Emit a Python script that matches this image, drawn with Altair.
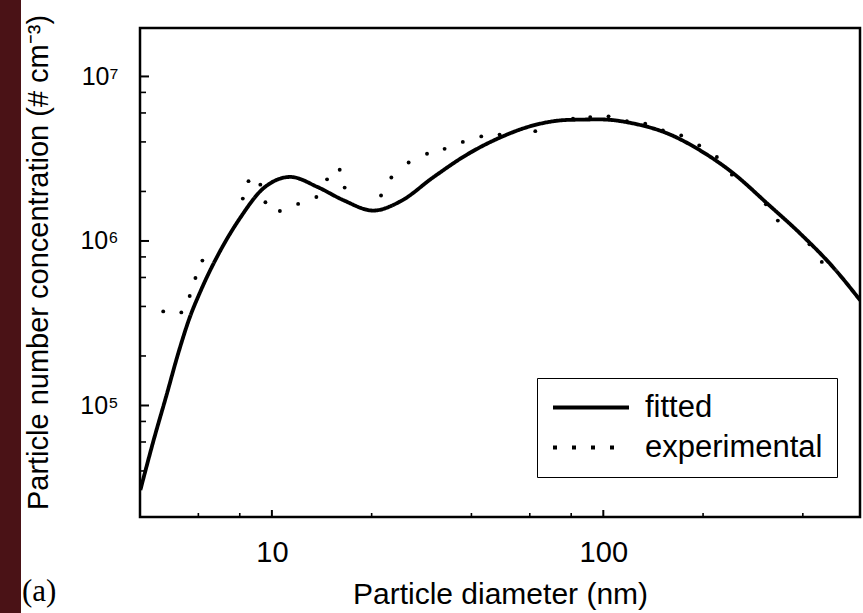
import altair as alt
import pandas as pd

# ---------------- data ----------------
fit_d = [4.01, 4.39, 4.81, 5.23, 5.64, 6.09, 7.00, 8.04, 9.43, 11.37, 13.72,
         16.43, 20.24, 24.41, 30.70, 38.88, 48.90, 61.49, 77.85, 97.9, 123.1,
         155.9, 196.1, 246.6, 312.3, 392.6, 493.8, 595.6]
fit_n = [3.06e4, 6.08e4, 1.157e5, 2.11e5, 3.39e5, 4.95e5, 8.78e5, 1.39e6,
         2.09e6, 2.45e6, 2.13e6, 1.77e6, 1.53e6, 1.74e6, 2.44e6, 3.36e6, 4.26e6,
         5.04e6, 5.44e6, 5.48e6, 5.18e6, 4.51e6, 3.55e6, 2.58e6, 1.69e6, 1.11e6,
         6.92e5, 4.36e5]

exp_d = [4.70, 5.33, 5.65, 5.88, 6.17, 8.17, 8.50, 9.23, 9.56, 10.57, 12.0, 13.62,
         14.67, 16.02, 16.58, 21.35, 22.93, 25.86, 29.38, 33.20, 37.68, 42.83,
         48.64, 62.34, 81.0, 91.3, 103.7, 117.8, 133.8, 151.3, 171.8, 194.7,
         220.1, 244.3, 309.4, 336.2, 418.8, 456.3]
exp_n = [3.73e5, 3.68e5, 4.63e5, 5.96e5, 7.60e5, 1.81e6, 2.31e6, 2.20e6, 1.72e6,
         1.52e6, 1.68e6, 1.85e6, 2.37e6, 2.71e6, 2.11e6, 1.89e6, 2.43e6, 3.00e6,
         3.39e6, 3.63e6, 4.00e6, 4.32e6, 4.43e6, 4.65e6, 5.54e6, 5.66e6, 5.72e6,
         5.35e6, 5.16e6, 4.70e6, 4.38e6, 3.81e6, 3.24e6, 2.53e6, 1.67e6, 1.33e6,
         9.55e5, 7.46e5]

series_names = ["fitted", "experimental"]
x_major = [10, 100]
x_minor = [6, 8, 20, 40, 60, 80, 200, 400]
y_major = [100000, 1000000, 10000000]
y_major_labels = ["10⁵", "10⁶", "10⁷"]
y_minor = [4e4, 6e4, 8e4, 2e5, 4e5, 6e5, 8e5, 2e6, 4e6, 6e6, 8e6]
x_title = "Particle diameter (nm)"
y_title = "Particle number concentration (# cm⁻³)"
panel_label = ["(a)"]

# ---------------- layout / style ----------------
W, H = 720, 489
X_DOMAIN = [4, 595]
Y_DOMAIN = [2.1e4, 1.97e7]
FONT = "Liberation Sans"

fit_df = pd.DataFrame({"d": fit_d, "n": fit_n, "series": series_names[0]})
exp_df = pd.DataFrame({"d": exp_d, "n": exp_n, "series": series_names[1]})
deco_df = pd.DataFrame({"label": panel_label})


def xs():
    return alt.Scale(type="log", domain=X_DOMAIN, nice=False)


def ys():
    return alt.Scale(type="log", domain=Y_DOMAIN, nice=False)


label_expr = " : ".join(
    f"datum.value == {v} ? '{l}'" for v, l in zip(y_major, y_major_labels)
) + " : ''"

x_axis = alt.Axis(
    orient="bottom", values=x_major, format="d", ticks=False, tickSize=0,
    domain=False, grid=False, labelFontSize=29, labelPadding=44,
    labelBaseline="alphabetic", title=x_title, titleFontSize=30,
    titleFontWeight="normal", titleY=86, titleBaseline="alphabetic")
y_axis = alt.Axis(
    orient="left", values=y_major, labelExpr=label_expr, ticks=False,
    tickSize=0, domain=False, grid=False, labelFontSize=25, labelPadding=22,
    title=y_title, titleFontSize=29, titleFontWeight="normal",
    titleAngle=270, titleX=-93, titleY=234, titleBaseline="alphabetic",
    titleAlign="center")

# main fitted line, carries label axes and legend
fitted = alt.Chart(fit_df).mark_line(
    color="black", strokeWidth=3.8, interpolate="monotone", clip=True
).encode(
    x=alt.X("d:Q", scale=xs(), axis=x_axis),
    y=alt.Y("n:Q", scale=ys(), axis=y_axis),
    strokeDash=alt.StrokeDash("series:N", scale=alt.Scale(
        domain=series_names, range=[[1, 0], [4, 15]]),
        legend=alt.Legend(
            title=None, orient="none", legendX=397, legendY=350,
            strokeColor="black", padding=14, rowPadding=8,
            symbolType="stroke", symbolSize=5776, symbolStrokeWidth=4,
            symbolStrokeColor="black", clipHeight=31, labelFontSize=31,
            labelFont=FONT, labelOffset=14, labelColor="black",
            labelLimit=400)),
)

# experimental points
points = alt.Chart(exp_df).mark_circle(color="black", size=15, opacity=1).encode(
    x=alt.X("d:Q", scale=xs(), axis=x_axis),
    y=alt.Y("n:Q", scale=ys(), axis=y_axis),
)


# inward ticks, placed through the shared scales
def x_ticks(vals, length, width):
    df = pd.DataFrame({"d": vals})
    return alt.Chart(df).mark_rule(color="black", strokeWidth=width).encode(
        x=alt.X("d:Q", scale=xs(), axis=x_axis),
        y=alt.value(H), y2=alt.value(H - length),
    )


def y_ticks(vals, length, width):
    df = pd.DataFrame({"n": vals})
    return alt.Chart(df).mark_rule(color="black", strokeWidth=width).encode(
        y=alt.Y("n:Q", scale=ys(), axis=y_axis),
        x=alt.value(0), x2=alt.value(length),
    )


xt_major = x_ticks(x_major, 7, 2)
xt_minor = x_ticks(x_minor, 4, 1.6)
yt_major = y_ticks(y_major, 9, 2)
yt_minor = y_ticks(y_minor, 6, 1.6)

strip = alt.Chart(deco_df).mark_rect(color="#4a1216").encode(
    x=alt.value(-140), x2=alt.value(-119), y=alt.value(-28), y2=alt.value(585)
)

alabel = alt.Chart(deco_df).mark_text(
    font="Liberation Serif", fontSize=31, align="left", baseline="alphabetic",
    color="black"
).encode(text="label:N", x=alt.value(-118), y=alt.value(573))

chart = alt.layer(
    strip, fitted, points, xt_major, xt_minor, yt_major, yt_minor, alabel
).properties(
    width=W, height=H,
    autosize=alt.AutoSizeParams(type="none"),
    padding={"left": 140, "top": 28, "right": 3, "bottom": 96},
    background="white",
).configure_view(
    stroke="black", strokeWidth=2.5
).configure_axis(
    labelFont=FONT, titleFont=FONT, labelColor="black", titleColor="black"
)

chart.save("out.html", embed_options={"renderer": "svg", "actions": False})
